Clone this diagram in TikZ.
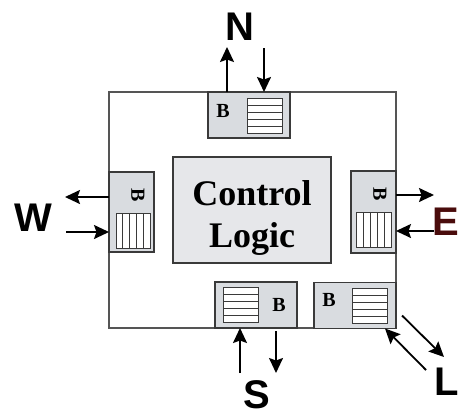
\documentclass[tikz,border=0pt]{standalone}
\usepackage{fontspec}
\setmainfont{Liberation Serif}
\newfontfamily\dirfont{Liberation Sans}
\usetikzlibrary{arrows.meta,calc}
\definecolor{cBufFill}{HTML}{D9DCE0}
\definecolor{cCtrlFill}{HTML}{E6E7EA}
\definecolor{cBoxLine}{HTML}{3A3A3A}
\definecolor{cFrame}{HTML}{555555}
\definecolor{cEast}{HTML}{4A0C0C}

\begin{document}
\begin{tikzpicture}[
  x=1pt, y=-1pt,
  flow/.style={-{Stealth[length=15pt,width=14pt,inset=2.5pt]}, line width=1.8pt, black},
  framebox/.style={draw=cFrame, line width=1.1pt, inner sep=0pt, outer sep=0pt},
  bufbox/.style={
    draw=cBoxLine, line width=1.1pt, fill=cBufFill, inner sep=0pt, outer sep=0pt,
  },
  ctrlbox/.style={
    draw=cBoxLine, line width=1.1pt, fill=cCtrlFill, inner sep=0pt, outer sep=0pt,
    minimum width=158pt, minimum height=106pt,
  },
  quebox/.style={
    draw=cBoxLine, line width=1pt, fill=white, inner sep=0pt, outer sep=0pt,
    minimum width=35pt, minimum height=35pt,
  },
  qline/.style={draw=cBoxLine, line width=0.9pt},
  bmark/.style={inner sep=0pt, font=\bfseries\fontsize{20}{24}\selectfont},
  dirlabel/.style={inner sep=0pt, font=\dirfont\bfseries\fontsize{40}{46}\selectfont},
]
\useasboundingbox (0,0) rectangle (460,416);

% --- router frame and control logic ---
\node[framebox, minimum width=287pt, minimum height=236pt] (router) at (252.5,210) {};
\node[ctrlbox] (ctrl) at (252,210) {};
\node[align=center, inner sep=0pt, font=\bfseries\fontsize{36}{42}\selectfont]
  (ctrltxt) at (252,217.5) {Control\\Logic};

% --- port buffers (N, S, L horizontal; W, E vertical) ---
\node[bufbox, minimum width=82pt, minimum height=46pt] (nbuf) at (249,115) {};
\node[bufbox, minimum width=82pt, minimum height=46pt] (sbuf) at (256,305) {};
\node[bufbox, minimum width=82pt, minimum height=46pt] (lbuf) at (355,305.5) {};
\node[bufbox, minimum width=45pt, minimum height=80pt] (wbuf) at (131.5,212) {};
\node[bufbox, minimum width=45pt, minimum height=82pt] (ebuf) at (373.5,212) {};

% queues inside the buffers
\node[quebox] (nque) at (264.5,115.5) {};
\node[quebox] (sque) at (241,304.5) {};
\node[quebox] (lque) at (369.5,305.5) {};
\node[quebox, minimum width=34pt] (wque) at (133,230.5) {};
\node[quebox] (eque) at (373.5,229.5) {};
\foreach \q in {nque,sque,lque}
  \foreach \i in {1,...,4}
    \draw[qline] ($(\q.north west)!\i/5!(\q.south west)$) -- ($(\q.north east)!\i/5!(\q.south east)$);
\foreach \q in {wque,eque}
  \foreach \i in {1,...,4}
    \draw[qline] ($(\q.north west)!\i/5!(\q.north east)$) -- ($(\q.south west)!\i/5!(\q.south east)$);

\node[bmark] (nB) at (223,111) {B};
\node[bmark] (sB) at (279,305) {B};
\node[bmark] (lB) at (329,300) {B};
\node[bmark, rotate=-90] (wB) at (138,195) {B};
\node[bmark, rotate=-90] (eB) at (380,194) {B};

% --- link ends ---
\coordinate (nOut) at (227,47);
\coordinate (nIn) at (264,48);
\coordinate (sIn) at (240,373);
\coordinate (sOut) at (276,373);
\coordinate (wOut) at (65,197);
\coordinate (wIn) at (66,232);
\coordinate (eOut) at (434,195);
\coordinate (eIn) at (434,231);
\coordinate (lIn) at (426,370);
\coordinate (lOut) at (444,357);

\draw[flow] (nbuf.north -| nOut) -- (nOut);
\draw[flow] (nIn) -- (nbuf.north -| nIn);
\draw[flow] (sIn) -- (sbuf.south -| sIn);
\draw[flow, shorten <=3pt] (sbuf.south -| sOut) -- (sOut);
\draw[flow] (wbuf.west |- wOut) -- (wOut);
\draw[flow] (wIn) -- (wbuf.west |- wIn);
\draw[flow] (ebuf.east |- eOut) -- (eOut);
\draw[flow] (eIn) -- (ebuf.east |- eIn);
\draw[flow] (lIn) -- ([xshift=-11pt]lbuf.south east);
\draw[flow] ([xshift=6pt,yshift=13pt]lbuf.south east) -- (lOut);

% --- direction labels ---
\node[dirlabel] (labN) at (240,27) {N};
\node[dirlabel] (labW) at (33,218) {W};
\node[dirlabel] (labS) at (257,395) {S};
\node[dirlabel, anchor=east] (labL) at (459,382) {L};
\node[dirlabel, anchor=east, text=cEast] (labE) at (459,222) {E};

\end{tikzpicture}
\end{document}
